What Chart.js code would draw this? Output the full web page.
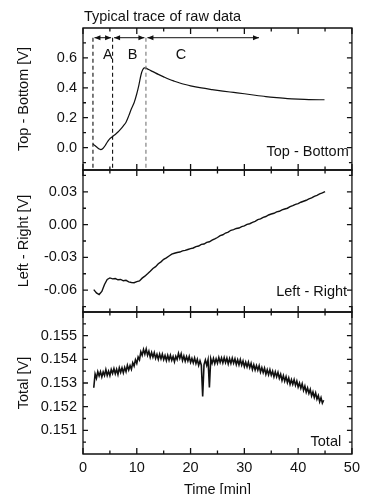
<!DOCTYPE html>
<html><head><meta charset="utf-8">
<script src="https://cdn.jsdelivr.net/npm/chart.js@4/dist/chart.umd.min.js"></script>
<style>html,body{margin:0;padding:0;background:#fff;}#wrap{width:365px;height:494px;position:relative;}</style>
</head><body><div id="wrap"><canvas id="c" width="365" height="494"></canvas></div>
<script>
// ---------- data ----------
const chartTitle = 'Typical trace of raw data';
const xTitle = 'Time [min]';
const xTicks = [0, 10, 20, 30, 40, 50];
const xMinorTicks = [5, 15, 25, 35, 45];

// panel 1: Top - Bottom
const tbTime = [1.85, 2.2, 2.6, 3.0, 3.3, 3.7, 4.1, 4.6, 5.0, 5.5, 6.0, 6.5, 7.0, 7.5, 8.0, 8.5, 9.0, 9.5, 10.0, 10.4, 10.8, 11.1, 11.4, 11.7, 12.2, 13.0, 14.0, 15.0, 16.0, 17.0, 18.0, 19.0, 20.0, 22.0, 24.0, 26.0, 28.0, 30.0, 32.0, 34.0, 36.0, 38.0, 40.0, 42.0, 44.0, 44.9];
const tbValue = [0.025, 0.014, 0.002, -0.009, -0.014, -0.006, 0.012, 0.042, 0.060, 0.074, 0.088, 0.104, 0.124, 0.146, 0.170, 0.212, 0.260, 0.300, 0.360, 0.420, 0.489, 0.520, 0.533, 0.532, 0.522, 0.508, 0.490, 0.473, 0.457, 0.444, 0.432, 0.422, 0.413, 0.399, 0.388, 0.378, 0.369, 0.360, 0.350, 0.341, 0.334, 0.328, 0.324, 0.321, 0.320, 0.320];
const tbTicks = [0.0, 0.2, 0.4, 0.6];
const tbMinorTicks = [-0.1, 0.1, 0.3, 0.5, 0.7];

// panel 2: Left - Right (sampled every 0.5 min from 2.0 min)
const lrStart = 2.0, lrStep = 0.5;
const lrValue = [
  -0.0595, -0.0625, -0.0640, -0.0612, -0.0548, -0.0502, -0.0488, -0.0497,
  -0.0494, -0.0505, -0.0502, -0.0514, -0.0510, -0.0524, -0.0530, -0.0532,
  -0.0522, -0.0515, -0.0490, -0.0472, -0.0450, -0.0427, -0.0402, -0.0385,
  -0.0358, -0.0341, -0.0318, -0.0304, -0.0287, -0.0270, -0.0262, -0.0255,
  -0.0251, -0.0240, -0.0236, -0.0228, -0.0220, -0.0214, -0.0201, -0.0196,
  -0.0181, -0.0178, -0.0163, -0.0157, -0.0143, -0.0131, -0.0118, -0.0101,
  -0.0093, -0.0077, -0.0069, -0.0052, -0.0046, -0.0035, -0.0031, -0.0018,
  -0.0012, 0.0002, 0.0008, 0.0021, 0.0030, 0.0045, 0.0052, 0.0066,
  0.0074, 0.0088, 0.0097, 0.0104, 0.0116, 0.0122, 0.0135, 0.0143,
  0.0150, 0.0164, 0.0173, 0.0186, 0.0192, 0.0205, 0.0214, 0.0223,
  0.0236, 0.0244, 0.0259, 0.0268, 0.0281, 0.0290, 0.0302
];
const lrTicks = [-0.06, -0.03, 0.00, 0.03];
const lrMinorTicks = [-0.075, -0.045, -0.015, 0.015, 0.045];

// panel 3: Total (sampled every 0.25 min from 2.0 min)
const totStart = 2.0, totStep = 0.25;
const totValue = [
  0.15280, 0.15338, 0.15320, 0.15348,
  0.15330, 0.15348, 0.15326, 0.15347,
  0.15332, 0.15357, 0.15332, 0.15350,
  0.15331, 0.15357, 0.15340, 0.15361,
  0.15339, 0.15358, 0.15336, 0.15364,
  0.15345, 0.15364, 0.15343, 0.15366,
  0.15348, 0.15375, 0.15355, 0.15374,
  0.15358, 0.15386, 0.15372, 0.15398,
  0.15383, 0.15410, 0.15398, 0.15432,
  0.15417, 0.15442, 0.15422, 0.15444,
  0.15417, 0.15434, 0.15409, 0.15429,
  0.15409, 0.15428, 0.15404, 0.15421,
  0.15400, 0.15422, 0.15402, 0.15422,
  0.15399, 0.15416, 0.15395, 0.15417,
  0.15396, 0.15417, 0.15396, 0.15412,
  0.15390, 0.15413, 0.15399, 0.15425,
  0.15404, 0.15423, 0.15395, 0.15414,
  0.15392, 0.15412, 0.15393, 0.15412,
  0.15387, 0.15404, 0.15385, 0.15406,
  0.15382, 0.15400, 0.15375, 0.15394,
  0.15375, 0.15243, 0.15378, 0.15397,
  0.15375, 0.15398, 0.15281, 0.15403,
  0.15383, 0.15404, 0.15382, 0.15402,
  0.15384, 0.15408, 0.15387, 0.15406,
  0.15385, 0.15407, 0.15386, 0.15405,
  0.15381, 0.15403, 0.15383, 0.15405,
  0.15384, 0.15402, 0.15378, 0.15398,
  0.15377, 0.15399, 0.15376, 0.15393,
  0.15369, 0.15388, 0.15368, 0.15388,
  0.15365, 0.15383, 0.15357, 0.15377,
  0.15355, 0.15374, 0.15354, 0.15373,
  0.15346, 0.15365, 0.15344, 0.15363,
  0.15337, 0.15356, 0.15335, 0.15356,
  0.15333, 0.15350, 0.15326, 0.15347,
  0.15326, 0.15345, 0.15320, 0.15337,
  0.15311, 0.15331, 0.15308, 0.15327,
  0.15302, 0.15321, 0.15295, 0.15314,
  0.15294, 0.15314, 0.15290, 0.15308,
  0.15283, 0.15300, 0.15278, 0.15297,
  0.15269, 0.15287, 0.15261, 0.15279,
  0.15256, 0.15273, 0.15245, 0.15262,
  0.15239, 0.15258, 0.15232, 0.15247,
  0.15221, 0.15238, 0.15215, 0.15227
];
const totTicks = [0.151, 0.152, 0.153, 0.154, 0.155];
const totMinorTicks = [0.1505, 0.1515, 0.1525, 0.1535, 0.1545, 0.1555];

// phase annotations (in minutes / volts of panel 1)
const phaseBounds = [1.85, 5.5, 11.7];
const phaseEnd = 33;
const phaseArrowLevel = 0.735;
const phaseLabels = ['A', 'B', 'C'];
const phaseLabelTimes = [4.6, 9.2, 18.2];
const phaseLabelLevel = 0.62;

// panel name labels: [text, time, value, axis]
const panelNames = [
  ['Top - Bottom', 49.4, -0.03, 'y1'],
  ['Left - Right', 49.1, -0.062, 'y2'],
  ['Total', 48.0, 0.1505, 'y3']
];

// ---------- build ----------
const FONT = '"Liberation Sans", Arial, Helvetica, sans-serif';
const FS = 14.5;
const INK = '#111';
Chart.defaults.font.family = FONT;
Chart.defaults.font.size = FS;
Chart.defaults.color = INK;

const tbData = tbTime.map((t, i) => ({x: t, y: tbValue[i]}));
const lrData = lrValue.map((v, i) => ({x: lrStart + i * lrStep, y: v}));
const totData = totValue.map((v, i) => ({x: totStart + i * totStep, y: v}));

function yScale(min, max, ticks, digits, title) {
  return {
    type: 'linear', position: 'left', stack: 'panels', stackWeight: 1,
    min: min, max: max,
    afterBuildTicks: s => { s.ticks = ticks.map(v => ({value: v})); },
    afterFit: s => { s.width = 83; },
    grid: {display: false, drawTicks: false},
    border: {display: false},
    ticks: {padding: 6, autoSkip: false, font: {size: FS}, color: INK, callback: v => Number(v).toFixed(digits)},
    title: {display: true, text: title, font: {size: FS}, color: INK, padding: {top: 15, bottom: 0}}
  };
}

const annot = {
  id: 'annot',
  afterDatasetsDraw(chart) {
    const ctx = chart.ctx, ca = chart.chartArea, xs = chart.scales.x;
    const panels = [
      [chart.scales.y1, tbTicks, tbMinorTicks],
      [chart.scales.y2, lrTicks, lrMinorTicks],
      [chart.scales.y3, totTicks, totMinorTicks]
    ];
    ctx.save();
    ctx.strokeStyle = INK;
    ctx.lineWidth = 1.3;
    const L = ca.left, R = ca.right;
    panels.forEach(([ys, maj, mnr]) => {
      const T = ys.top, B = ys.bottom;
      ctx.beginPath();
      ctx.rect(L, T, R - L, B - T);
      ctx.stroke();
      ctx.beginPath();
      maj.forEach(v => { const y = ys.getPixelForValue(v); ctx.moveTo(L, y); ctx.lineTo(L + 5, y); ctx.moveTo(R, y); ctx.lineTo(R - 5, y); });
      mnr.forEach(v => { const y = ys.getPixelForValue(v); ctx.moveTo(L, y); ctx.lineTo(L + 3, y); ctx.moveTo(R, y); ctx.lineTo(R - 3, y); });
      xTicks.forEach(v => { const x = xs.getPixelForValue(v); ctx.moveTo(x, T); ctx.lineTo(x, T + 6); ctx.moveTo(x, B); ctx.lineTo(x, B - 6); });
      xMinorTicks.forEach(v => { const x = xs.getPixelForValue(v); ctx.moveTo(x, T); ctx.lineTo(x, T + 3.5); ctx.moveTo(x, B); ctx.lineTo(x, B - 3.5); });
      ctx.stroke();
    });

    // phase dashed lines and arrows
    const y1 = chart.scales.y1;
    const ay = y1.getPixelForValue(phaseArrowLevel);
    ctx.lineWidth = 1.1;
    ctx.setLineDash([4, 3]);
    phaseBounds.forEach((b, i) => {
      const x = xs.getPixelForValue(b);
      ctx.strokeStyle = i === 2 ? '#777' : INK;
      ctx.beginPath(); ctx.moveTo(x, ay); ctx.lineTo(x, y1.bottom); ctx.stroke();
    });
    ctx.setLineDash([]);
    ctx.strokeStyle = INK; ctx.fillStyle = INK; ctx.lineWidth = 1;
    const ends = phaseBounds.slice(1).concat([phaseEnd]);
    phaseBounds.forEach((b, i) => {
      const x0 = xs.getPixelForValue(b) + 1.5, x1 = xs.getPixelForValue(ends[i]) - 1.5;
      ctx.beginPath(); ctx.moveTo(x0, ay); ctx.lineTo(x1, ay); ctx.stroke();
      ctx.beginPath();
      ctx.moveTo(x0, ay); ctx.lineTo(x0 + 6, ay - 2.5); ctx.lineTo(x0 + 6, ay + 2.5); ctx.closePath();
      ctx.moveTo(x1, ay); ctx.lineTo(x1 - 6, ay - 2.5); ctx.lineTo(x1 - 6, ay + 2.5); ctx.closePath();
      ctx.fill();
    });
    ctx.font = FS + 'px ' + FONT;
    ctx.textAlign = 'center'; ctx.textBaseline = 'middle';
    phaseLabels.forEach((s, i) => ctx.fillText(s, xs.getPixelForValue(phaseLabelTimes[i]), y1.getPixelForValue(phaseLabelLevel)));

    // panel names
    ctx.textAlign = 'right';
    panelNames.forEach(([s, t, v, id]) => ctx.fillText(s, xs.getPixelForValue(t), chart.scales[id].getPixelForValue(v)));

    // chart title
    ctx.textAlign = 'left';
    ctx.fillText(chartTitle, L + 1, ca.top - 11.5);
    ctx.restore();
  }
};

new Chart(document.getElementById('c'), {
  type: 'line',
  data: {
    datasets: [
      {data: tbData, yAxisID: 'y1', borderColor: INK, borderWidth: 1.2, pointRadius: 0, cubicInterpolationMode: 'monotone'},
      {data: lrData, yAxisID: 'y2', borderColor: INK, borderWidth: 1.4, pointRadius: 0},
      {data: totData, yAxisID: 'y3', borderColor: INK, borderWidth: 1.6, pointRadius: 0}
    ]
  },
  options: {
    responsive: false, animation: false, devicePixelRatio: 1,
    layout: {padding: {top: 28, right: 11, left: 0, bottom: 0}},
    plugins: {legend: {display: false}, tooltip: {enabled: false}, title: {display: false}},
    scales: {
      x: {
        type: 'linear', position: 'bottom', min: 0, max: 50,
        afterBuildTicks: s => { s.ticks = xTicks.map(v => ({value: v})); },
        afterFit: s => { s.height = 40; },
        grid: {display: false, drawTicks: false},
        border: {display: false},
        ticks: {padding: 5, maxRotation: 0, autoSkip: false, font: {size: FS}, color: INK},
        title: {display: true, text: xTitle, font: {size: FS, lineHeight: 0.6}, color: INK, padding: {top: 0, bottom: 0}}
      },
      // stacked panels: the first listed is placed at the bottom
      y3: yScale(0.150, 0.156, totTicks, 3, 'Total [V]'),
      y2: yScale(-0.08, 0.05, lrTicks, 2, 'Left - Right [V]'),
      y1: yScale(-0.15, 0.8, tbTicks, 1, 'Top - Bottom [V]')
    }
  },
  plugins: [annot]
});
</script></body></html>
